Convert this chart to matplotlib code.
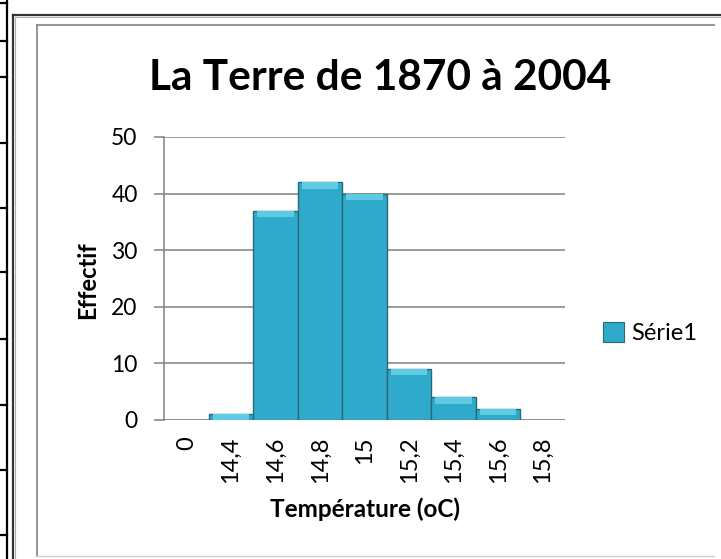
import matplotlib
matplotlib.use('Agg')
import matplotlib.pyplot as plt
from matplotlib.lines import Line2D
from matplotlib.patches import Patch

# data
categories = ['0', '14,4', '14,6', '14,8', '15', '15,2', '15,4', '15,6', '15,8']
counts = [0, 1, 37, 42, 40, 9, 4, 2, 0]
yticks = [0, 10, 20, 30, 40, 50]

W, H = 721, 559
plt.rcParams['font.family'] = ['Lato', 'DejaVu Sans']

fig = plt.figure(figsize=(W / 100, H / 100), dpi=100)

def fx(px):
  return px / W

def fy(py):
  return 1 - py / H

def fline(xs, ys, **kw):
  # decoration lines in pixel coordinates of the figure
  fig.add_artist(Line2D([fx(x) for x in xs], [fy(y) for y in ys],
                        transform=fig.transFigure, **kw))

# spreadsheet border on the far left
fline([7, 7], [0, H], color='black', lw=1.6)
for y in [3, 41, 77, 143, 208, 272, 339, 405, 470, 535]:
  fline([0, 7], [y, y], color='black', lw=1.6)

# outer chart frame (dark, with a light shadow)
fline([13, W], [15, 15], color='#333333', lw=1.6)
fline([13, 13], [15, H], color='#333333', lw=1.6)
fline([15, W], [17, 17], color='#b0b0b0', lw=0.8)
fline([15, 15], [17, H], color='#b0b0b0', lw=0.8)

# inner chart area frame
fline([37, 714], [25, 25], color='#8c8c8c', lw=1.3)
fline([37, 37], [25, 556], color='#8c8c8c', lw=1.3)
fline([37, 714], [556, 556], color='#d0d0d0', lw=1.0)

ax = fig.add_axes([fx(164), fy(420), fx(565) - fx(164), fy(137) - fy(420)])
x = list(range(len(categories)))

ax.bar(x, counts, width=1.0, color='#30AACB', edgecolor='#2a6878',
       linewidth=1.0, zorder=3)
# light bevel on top of each bar
bevel = [min(v, 1.1) for v in counts]
ax.bar(x, bevel, bottom=[v - b for v, b in zip(counts, bevel)], width=0.82,
       color='#5ECBE3', linewidth=0, zorder=4)

ax.set_xlim(-0.5, len(categories) - 0.5)
ax.set_ylim(0, 50)
ax.set_yticks(yticks)
ax.yaxis.grid(True, color='#8a8a8a', lw=1.2, zorder=0)
ax.set_axisbelow(True)

ax.set_xticks(x)
ax.set_xticklabels(categories, rotation=90, fontsize=17)
ax.tick_params(axis='x', length=0, pad=12)
ax.tick_params(axis='y', length=7, width=1.2, color='#8a8a8a', pad=12,
               labelsize=16.5)

for side in ['top', 'right', 'bottom']:
  ax.spines[side].set_visible(False)
ax.spines['left'].set_color('#8a8a8a')
ax.spines['left'].set_linewidth(1.2)

fig.text(fx(380), fy(90), 'La Terre de 1870 à 2004', ha='center',
         va='baseline', fontsize=30.5, fontweight='bold')
fig.text(fx(365), fy(517), 'Température (oC)', ha='center', va='baseline',
         fontsize=17.5, fontweight='bold')
fig.text(fx(88), fy(280), 'Effectif', ha='center', va='center',
         rotation=90, fontsize=17, fontweight='bold')

handle = Patch(facecolor='#30AACB', edgecolor='#2a6878', linewidth=0.8)
fig.legend([handle], ['Série1'], loc='center left',
           bbox_to_anchor=(fx(603), fy(333)), frameon=False, fontsize=17,
           handlelength=0.9, handleheight=0.9, handletextpad=0.3,
           borderpad=0, borderaxespad=0)

fig.savefig('out.png', dpi=100)
